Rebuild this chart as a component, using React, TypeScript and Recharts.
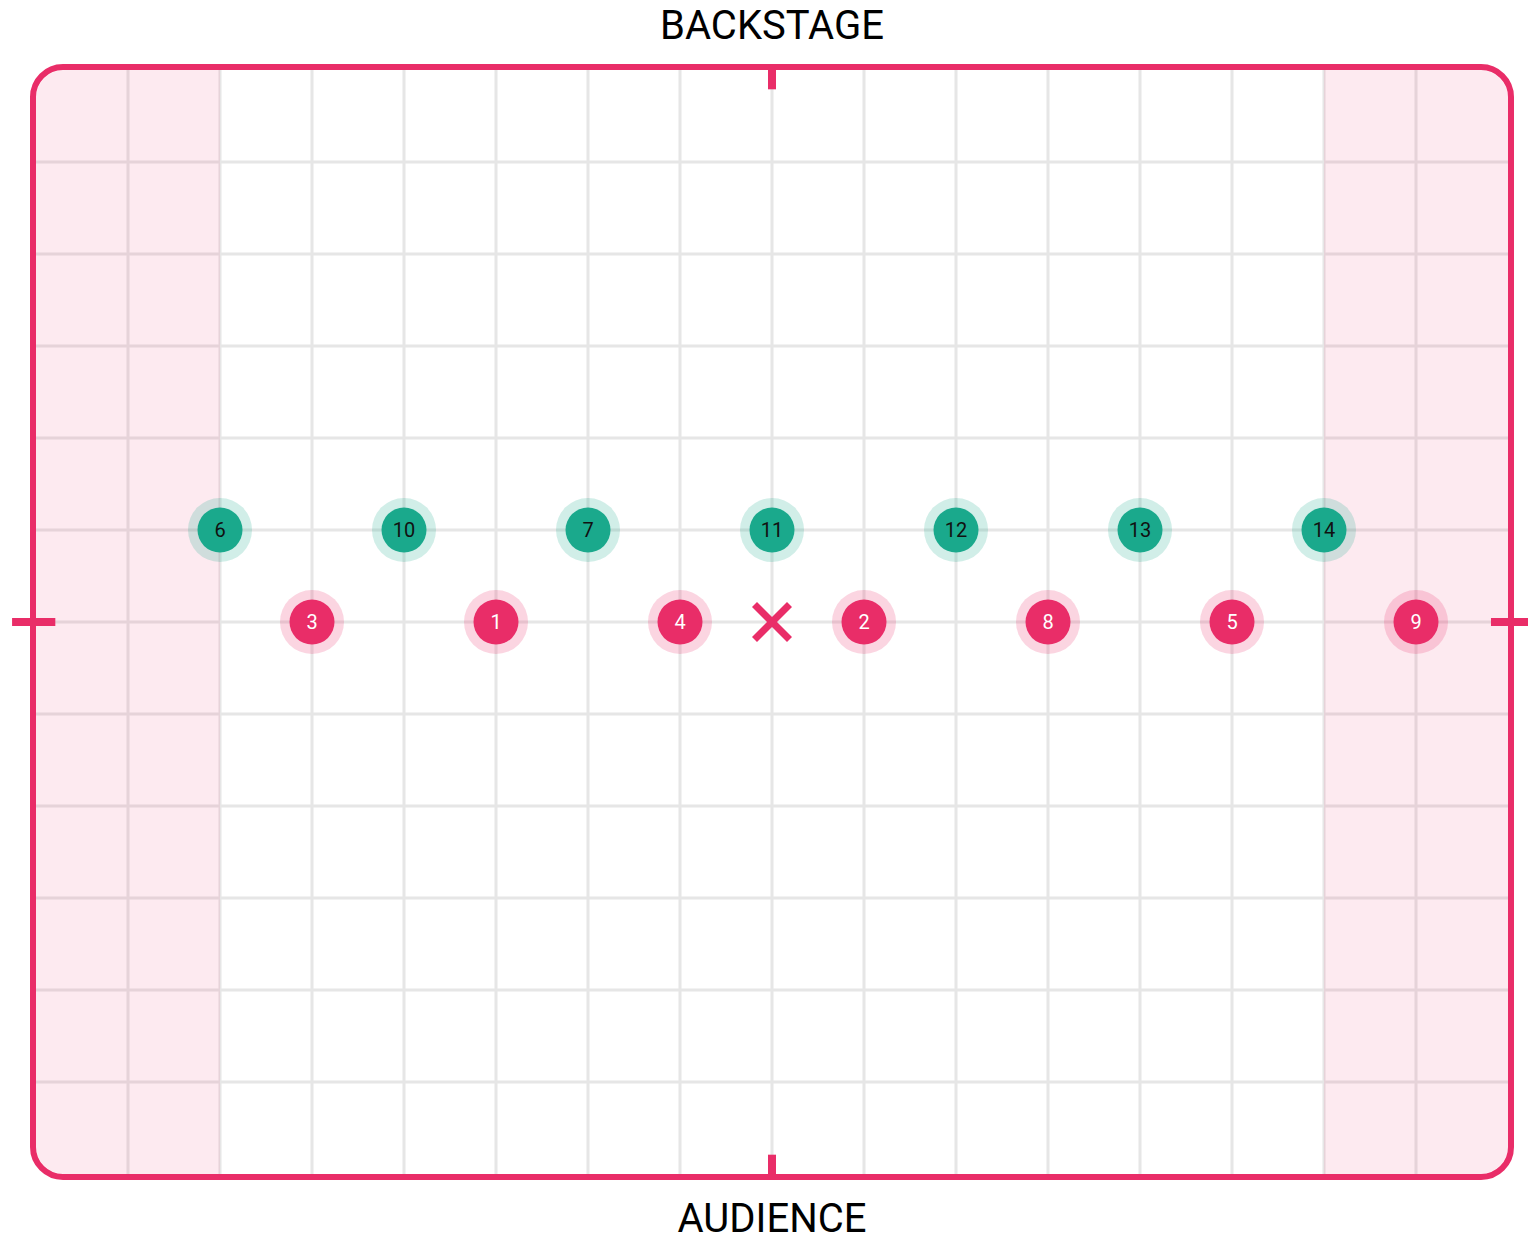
import React from 'react';
import {
  ScatterChart,
  Scatter,
  XAxis,
  YAxis,
  CartesianGrid,
  ReferenceLine,
  ReferenceArea,
  Label,
} from 'recharts';

// stage is 16 x 12 units, centre at (0, 0)
const gridX = [-7, -6, -5, -4, -3, -2, -1, 0, 1, 2, 3, 4, 5, 6, 7];
const gridY = [-5, -4, -3, -2, -1, 0, 1, 2, 3, 4, 5];

const frontRow = [
  { x: -5, y: 0, n: 3 },
  { x: -3, y: 0, n: 1 },
  { x: -1, y: 0, n: 4 },
  { x: 1, y: 0, n: 2 },
  { x: 3, y: 0, n: 8 },
  { x: 5, y: 0, n: 5 },
  { x: 7, y: 0, n: 9 },
];

const backRow = [
  { x: -6, y: 1, n: 6 },
  { x: -4, y: 1, n: 10 },
  { x: -2, y: 1, n: 7 },
  { x: 0, y: 1, n: 11 },
  { x: 2, y: 1, n: 12 },
  { x: 4, y: 1, n: 13 },
  { x: 6, y: 1, n: 14 },
];

const centerMark = [{ x: 0, y: 0 }];

const PINK = '#e92d68';
const TEAL = '#1aa98c';
const GRID = '#e6e6e6';

// border sits just outside the plot edge
const EDGE = 3 / 92;

const makeDancer = (color: string, textColor: string) => (props: any) => {
  const { cx, cy, payload } = props;
  return (
    <g>
      <circle cx={cx} cy={cy} r={32} fill={color} fillOpacity={0.2} />
      <circle cx={cx} cy={cy} r={22.5} fill={color} />
      <text
        x={cx}
        y={cy}
        dy="0.36em"
        textAnchor="middle"
        fontSize={20}
        fill={textColor}
        fontFamily="Roboto"
      >
        {payload.n}
      </text>
    </g>
  );
};

const CrossShape = (props: any) => {
  const { cx, cy } = props;
  const d = 17.5;
  return (
    <g stroke={PINK} strokeWidth={7}>
      <line x1={cx - d} y1={cy - d} x2={cx + d} y2={cy + d} />
      <line x1={cx - d} y1={cy + d} x2={cx + d} y2={cy - d} />
    </g>
  );
};

export default function App() {
  return (
    <div style={{ position: 'absolute', left: 0, top: 0 }}>
      <ScatterChart
        width={1528}
        height={1241}
        margin={{ top: 70, right: 20, bottom: 67, left: 36 }}
        style={{ fontFamily: 'Roboto' }}
      >
        <XAxis type="number" dataKey="x" domain={[-8, 8]} ticks={gridX} hide />
        <YAxis type="number" dataKey="y" domain={[-6, 6]} ticks={gridY} hide />

        <CartesianGrid
          stroke={GRID}
          strokeWidth={3}
          verticalValues={gridX}
          horizontalValues={gridY}
        />

        <ReferenceArea
          x1={-8}
          x2={-6}
          y1={-6}
          y2={6}
          fill={PINK}
          fillOpacity={0.1}
          stroke="none"
          radius={[28, 0, 0, 28]}
        />
        <ReferenceArea
          x1={6}
          x2={8}
          y1={-6}
          y2={6}
          fill={PINK}
          fillOpacity={0.1}
          stroke="none"
          radius={[0, 28, 28, 0]}
        />

        <ReferenceArea
          x1={-8 - EDGE}
          x2={8 + EDGE}
          y1={-6 - EDGE}
          y2={6 + EDGE}
          fill="none"
          fillOpacity={0}
          stroke={PINK}
          strokeWidth={6}
          radius={30}
          ifOverflow="visible"
        >
          <Label
            value="BACKSTAGE"
            position="top"
            offset={28}
            fontSize={40}
            fill="#000"
          />
          <Label
            value="AUDIENCE"
            position="bottom"
            offset={27}
            fontSize={40}
            fill="#000"
          />
        </ReferenceArea>

        <ReferenceLine
          segment={[{ x: 0, y: 6 }, { x: 0, y: 5.79 }]}
          stroke={PINK}
          strokeWidth={8}
          ifOverflow="visible"
        />
        <ReferenceLine
          segment={[{ x: 0, y: -6 }, { x: 0, y: -5.79 }]}
          stroke={PINK}
          strokeWidth={8}
          ifOverflow="visible"
        />
        <ReferenceLine
          segment={[{ x: -8.26, y: 0 }, { x: -7.79, y: 0 }]}
          stroke={PINK}
          strokeWidth={8}
          ifOverflow="visible"
        />
        <ReferenceLine
          segment={[{ x: 7.815, y: 0 }, { x: 8.28, y: 0 }]}
          stroke={PINK}
          strokeWidth={8}
          ifOverflow="visible"
        />

        <Scatter
          data={centerMark}
          shape={CrossShape}
          isAnimationActive={false}
        />
        <Scatter
          data={frontRow}
          shape={makeDancer(PINK, '#fff')}
          isAnimationActive={false}
        />
        <Scatter
          data={backRow}
          shape={makeDancer(TEAL, '#111')}
          isAnimationActive={false}
        />
      </ScatterChart>
    </div>
  );
}
